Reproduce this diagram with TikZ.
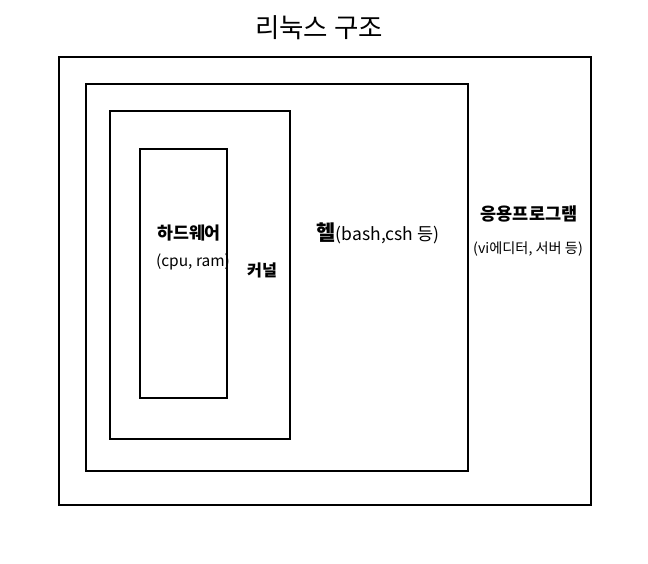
\documentclass[tikz,border=0pt]{standalone}
\usepackage{fontspec}
\setmainfont{Noto Sans CJK KR}
\begin{document}
\begin{tikzpicture}[x=1pt,y=-1pt,
  box/.style={draw=black,line width=2pt},
  lbl/.style={inner sep=0pt,anchor=center}]
\useasboundingbox[fill=white] (0,0) rectangle (648,564);
\draw[box] (59,57) rectangle (591,505);
\draw[box] (86,84) rectangle (468,471);
\draw[box] (110,111) rectangle (290,439);
\draw[box] (140,149) rectangle (227,398);
\node[lbl,font=\fontsize{26.5}{30}\selectfont] (title) at (319,28) {리눅스 구조};
\node[lbl,font=\fontsize{17.3}{20}\selectfont\bfseries] (hw) at (189,233) {하드웨어};
\node[lbl,font=\fontsize{15.5}{18}\selectfont] (hwsub) at (193,262) {(cpu, ram)};
\node[lbl,font=\fontsize{16.2}{19}\selectfont\bfseries] (kernel) at (262,270) {커널};
\node[lbl,font=\fontsize{17.5}{20}\selectfont] (shell) at (378,233) {{\fontsize{21}{24}\selectfont\bfseries 헬}(bash,csh 등)};
\node[lbl,font=\fontsize{17.5}{20}\selectfont\bfseries] (app) at (529,214) {응용프로그램};
\node[lbl,font=\fontsize{14.2}{17}\selectfont] (appsub) at (528,249) {(vi에디터, 서버 등)};
\end{tikzpicture}
\end{document}
